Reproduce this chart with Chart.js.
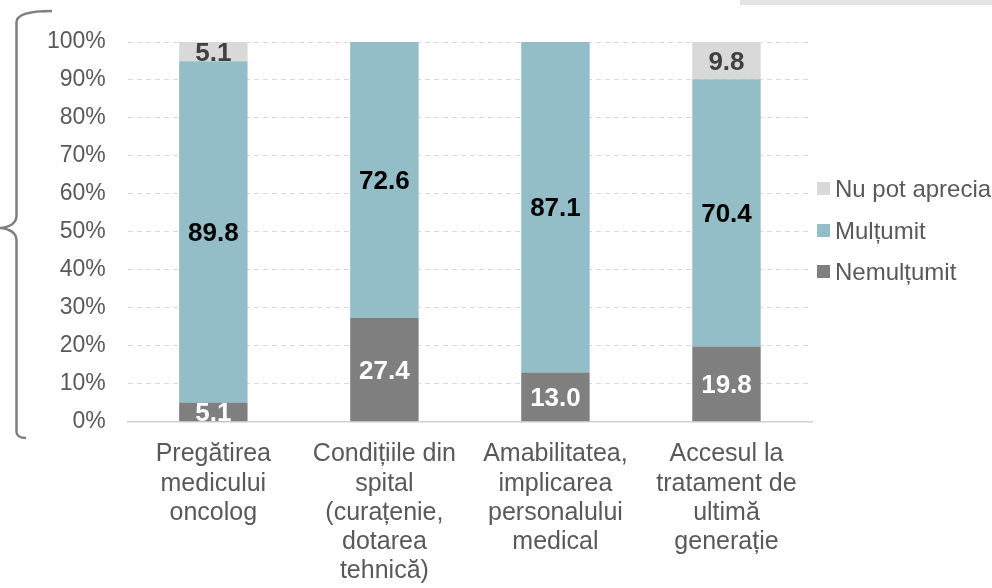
<!DOCTYPE html>
<html>
<head>
<meta charset="utf-8">
<script src="https://cdn.jsdelivr.net/npm/chart.js@4.4.1/dist/chart.umd.min.js"></script>
<style>
  html, body { margin: 0; padding: 0; background: #ffffff; }
  #wrap { position: relative; width: 992px; height: 588px; }
</style>
</head>
<body>
<div id="wrap"><canvas id="c" width="992" height="588"></canvas></div>
<script>
const categories = [
  ["Pregătirea", "medicului", "oncolog"],
  ["Condițiile din", "spital", "(curațenie,", "dotarea", "tehnică)"],
  ["Amabilitatea,", "implicarea", "personalului", "medical"],
  ["Accesul la", "tratament de", "ultimă", "generație"]
];
const seriesNames = ["Nemulțumit", "Mulțumit", "Nu pot aprecia"];
const nemultumit = [5.1, 27.4, 13.0, 19.8];
const multumit = [89.8, 72.6, 87.1, 70.4];
const nuPotAprecia = [5.1, 0, 0, 9.8];
const yTicks = [0, 10, 20, 30, 40, 50, 60, 70, 80, 90, 100];

const colors = ["#7f7f7f", "#93bdc7", "#d9d9d9"];
const labelColors = ["#ffffff", "#000000", "#404040"];
const FONT = "'Liberation Sans', Arial, sans-serif";

const braceAndBand = {
  id: 'braceAndBand',
  beforeDraw(chart) {
    const ctx = chart.ctx;
    ctx.save();
    ctx.fillStyle = '#e4e4e4';
    ctx.fillRect(740, 0, 252, 5);
    ctx.strokeStyle = '#7f7f7f';
    ctx.lineWidth = 2.5;
    ctx.beginPath();
    ctx.moveTo(52, 11);
    ctx.quadraticCurveTo(17, 11, 16.5, 22);
    ctx.lineTo(16.5, 216);
    ctx.quadraticCurveTo(16, 226, 1, 228);
    ctx.quadraticCurveTo(16, 230, 16.5, 240);
    ctx.lineTo(16.5, 432);
    ctx.quadraticCurveTo(17, 438, 26, 438);
    ctx.stroke();
    ctx.restore();
  }
};

const segLabels = {
  id: 'segLabels',
  afterDatasetsDraw(chart) {
    const ctx = chart.ctx;
    const area = chart.chartArea;
    chart.data.datasets.forEach((ds, di) => {
      const meta = chart.getDatasetMeta(di);
      meta.data.forEach((bar, i) => {
        const v = ds.data[i];
        if (!v) return;
        const p = bar.getProps(['x', 'y', 'base', 'width'], true);
        const top = Math.max(Math.min(p.y, p.base), area.top);
        const bot = Math.min(Math.max(p.y, p.base), area.bottom);
        ctx.save();
        ctx.beginPath();
        ctx.rect(p.x - p.width / 2, top, p.width, bot - top);
        ctx.clip();
        ctx.font = "bold 26px " + FONT;
        ctx.fillStyle = labelColors[di];
        ctx.textAlign = 'center';
        ctx.textBaseline = 'middle';
        ctx.fillText(v.toFixed(1), p.x, (top + bot) / 2 + 2);
        ctx.restore();
      });
    });
  }
};

const customLegend = {
  id: 'customLegend',
  afterDraw(chart) {
    const ctx = chart.ctx;
    const order = [2, 1, 0];
    const ys = [189, 231, 272];
    ctx.save();
    ctx.font = "24px " + FONT;
    ctx.textBaseline = 'middle';
    ctx.textAlign = 'left';
    order.forEach((di, k) => {
      ctx.fillStyle = colors[di];
      ctx.fillRect(817, ys[k] - 7, 13, 13);
      ctx.fillStyle = '#595959';
      ctx.fillText(seriesNames[di], 835, ys[k] + 1);
    });
    ctx.restore();
  }
};

new Chart(document.getElementById('c'), {
  type: 'bar',
  data: {
    labels: categories,
    datasets: [
      { label: seriesNames[0], data: nemultumit, backgroundColor: colors[0] },
      { label: seriesNames[1], data: multumit, backgroundColor: colors[1] },
      { label: seriesNames[2], data: nuPotAprecia, backgroundColor: colors[2] }
    ]
  },
  options: {
    responsive: false,
    animation: false,
    devicePixelRatio: 1,
    layout: { padding: { left: 25, right: 180, top: 42, bottom: -16 } },
    datasets: { bar: { categoryPercentage: 1, barPercentage: 0.4 } },
    plugins: {
      legend: { display: false },
      tooltip: { enabled: false }
    },
    scales: {
      x: {
        stacked: true,
        grid: { display: false, drawTicks: false },
        border: { display: true, color: '#d0d0d0', width: 1.5 },
        ticks: { color: '#595959', font: { family: FONT, size: 25, lineHeight: 1.17 }, padding: 18, maxRotation: 0, autoSkip: false }
      },
      y: {
        stacked: true,
        min: 0, max: 100,
        afterBuildTicks(scale) { scale.ticks = yTicks.map(v => ({ value: v })); },
        grid: { color: '#d9d9d9', lineWidth: 1, drawTicks: false },
        border: { display: false, dash: [5, 4] },
        ticks: { color: '#595959', font: { family: FONT, size: 23 }, padding: 22, callback: v => v + '%' }
      }
    }
  },
  plugins: [braceAndBand, segLabels, customLegend]
});
</script>
</body>
</html>
